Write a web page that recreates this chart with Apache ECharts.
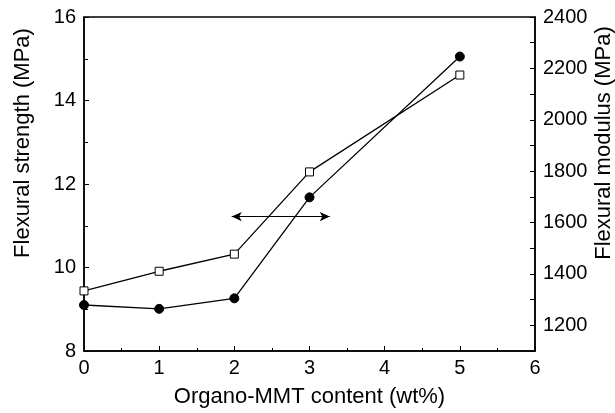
<!DOCTYPE html>
<html>
<head>
<meta charset="utf-8">
<script src="https://cdn.jsdelivr.net/npm/echarts@6/dist/echarts.min.js"></script>
<style>
  html, body { margin: 0; padding: 0; background: #fff; }
  #myChart { width: 615px; height: 413px; }
</style>
</head>
<body>
<div id="myChart"></div>
<script>
// organo-MMT content (wt%)
const content = [0, 1, 2, 3, 5];
// open squares, left axis
const strength = [9.44, 9.91, 10.32, 12.29, 14.61];
// filled circles, right axis
const modulus = [1279, 1264, 1305, 1698, 2246];
// double arrow between the two curves (left-axis units)
const arrowX = [1.965, 3.27];
const arrowY = 11.22;

const font = 'Liberation Sans';
const myChart = echarts.init(document.getElementById('myChart'));

myChart.setOption({
  animation: false,
  grid: {
    left: 84, right: 80, top: 17, bottom: 62,
    outerBoundsMode: 'none',
    show: true,
    borderColor: '#000',
    borderWidth: 1.5
  },
  xAxis: {
    type: 'value',
    min: 0,
    max: 6,
    interval: 1,
    name: 'Organo-MMT content (wt%)',
    nameLocation: 'middle',
    nameGap: 35,
    nameMoveOverlap: false,
    nameTextStyle: { color: '#000', fontSize: 22, fontFamily: font },
    axisLine: { lineStyle: { color: '#000', width: 1.5 } },
    axisTick: { inside: true, length: 5, lineStyle: { color: '#000' } },
    minorTick: { show: true, splitNumber: 2, length: 3, lineStyle: { color: '#000' } },
    axisLabel: { color: '#000', fontSize: 20, fontFamily: font, margin: 7 },
    splitLine: { show: false }
  },
  yAxis: [{
    type: 'value',
    min: 8,
    max: 16,
    interval: 2,
    name: 'Flexural strength (MPa)',
    nameLocation: 'middle',
    nameRotate: 90,
    nameGap: 50,
    nameMoveOverlap: false,
    nameTextStyle: { color: '#000', fontSize: 22, fontFamily: font, padding: [0, 0, 0, 82] },
    axisLine: { show: true, lineStyle: { color: '#000', width: 1.5 } },
    axisTick: { show: true, inside: true, length: 5, lineStyle: { color: '#000' } },
    minorTick: { show: true, splitNumber: 2, length: 4, lineStyle: { color: '#000' } },
    axisLabel: { color: '#000', fontSize: 20, fontFamily: font, margin: 8 },
    splitLine: { show: false }
  }, {
    type: 'value',
    position: 'right',
    min: 1100,
    max: 2400,
    interval: 100,
    name: 'Flexural modulus (MPa)',
    nameLocation: 'middle',
    nameRotate: 90,
    nameGap: 58,
    nameMoveOverlap: false,
    nameTextStyle: { color: '#000', fontSize: 22, fontFamily: font, padding: [0, 0, 0, 82] },
    axisLine: { show: true, lineStyle: { color: '#000', width: 1.5 } },
    axisTick: { show: true, inside: true, length: 5, lineStyle: { color: '#000' } },
    axisLabel: {
      color: '#000', fontSize: 20, fontFamily: font, margin: 8,
      formatter: function (v) { return v % 200 === 0 ? String(v) : ''; }
    },
    splitLine: { show: false }
  }],
  series: [{
    name: 'Flexural strength',
    type: 'line',
    yAxisIndex: 0,
    data: content.map((x, i) => [x, strength[i]]),
    symbol: 'rect',
    symbolSize: 8,
    itemStyle: { color: '#fff', borderColor: '#000', borderWidth: 1 },
    lineStyle: { color: '#000', width: 1.3 },
    z: 3,
    markLine: {
      silent: true,
      symbol: ['arrow', 'arrow'],
      symbolSize: [7, 10],
      label: { show: false },
      lineStyle: { color: '#000', width: 1.2, type: 'solid' },
      data: [[{ coord: [arrowX[0], arrowY] }, { coord: [arrowX[1], arrowY] }]]
    }
  }, {
    name: 'Flexural modulus',
    type: 'line',
    yAxisIndex: 1,
    data: content.map((x, i) => [x, modulus[i]]),
    symbol: 'circle',
    symbolSize: 9,
    itemStyle: { color: '#000', borderColor: '#000' },
    lineStyle: { color: '#000', width: 1.3 },
    z: 3
  }]
});
</script>
</body>
</html>
